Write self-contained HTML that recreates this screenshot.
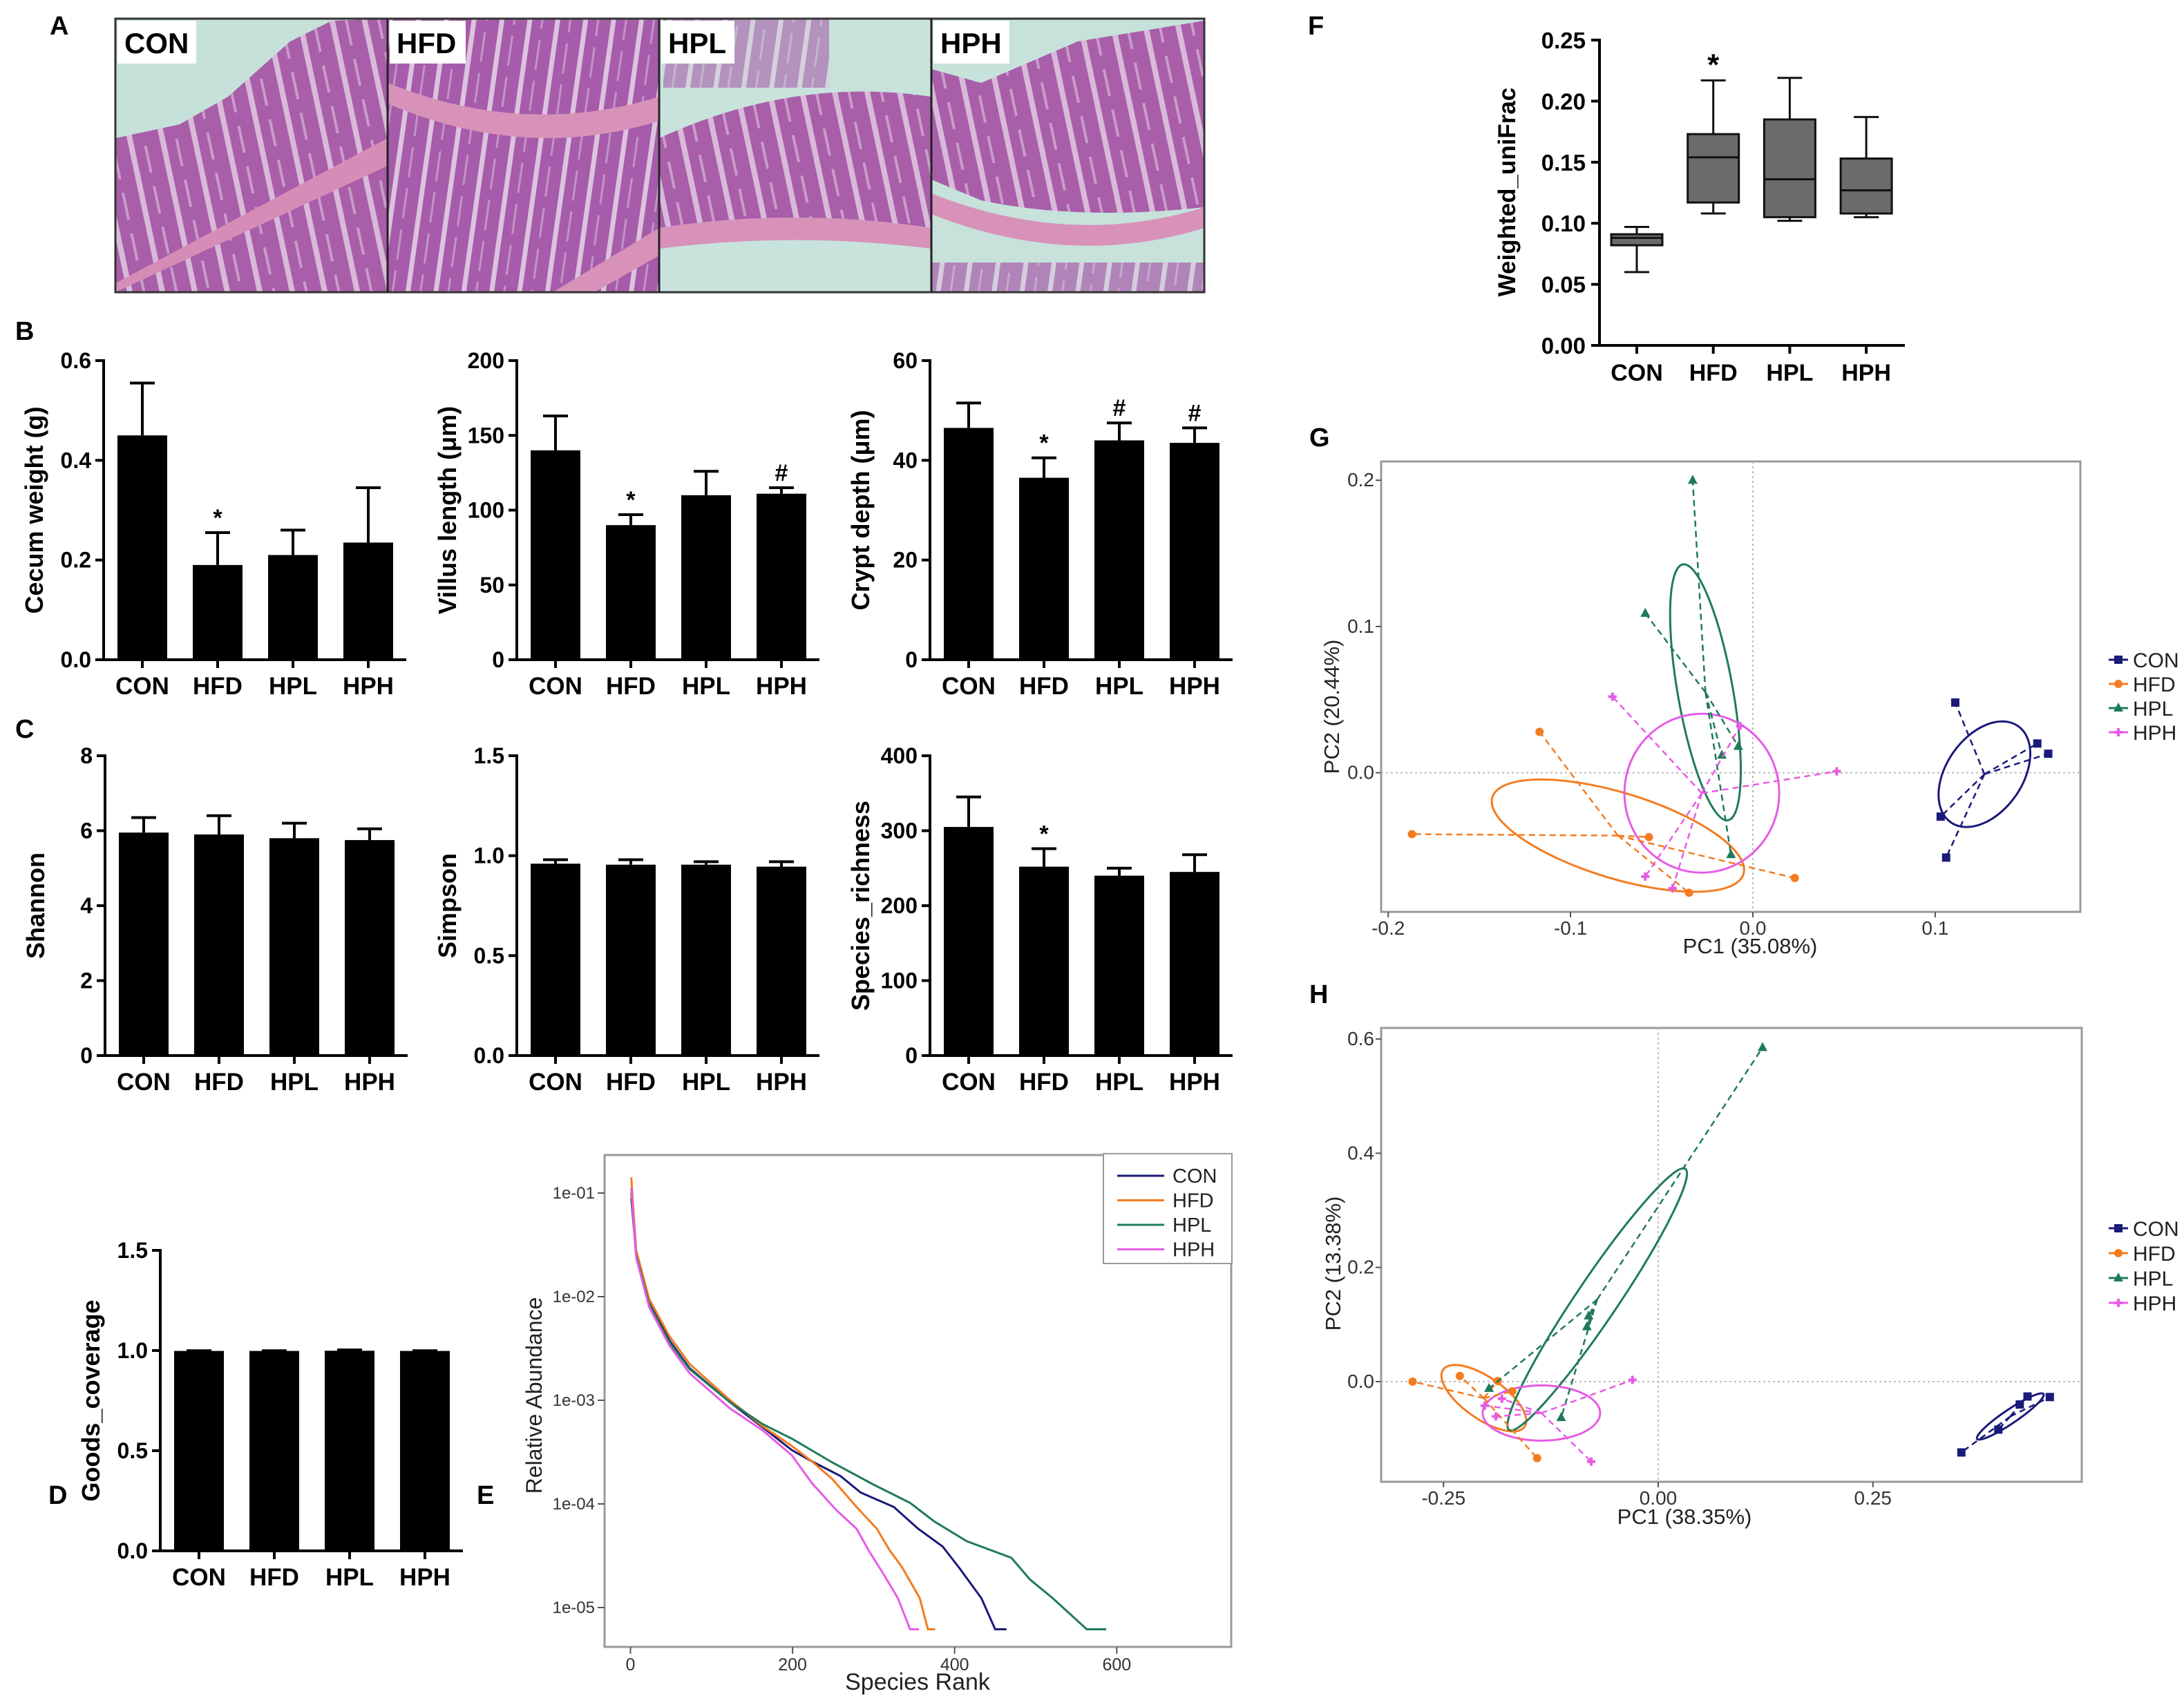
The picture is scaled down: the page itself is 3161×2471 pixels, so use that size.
<!DOCTYPE html>
<html><head><meta charset="utf-8"><style>
html,body{margin:0;padding:0;background:#fff;}
svg{display:block;font-family:"Liberation Sans",sans-serif;}
</style></head><body>
<svg id="fig" xmlns="http://www.w3.org/2000/svg" width="3161" height="2471" viewBox="0 0 3161 2471">
<defs>
<pattern id="villi" width="46" height="60" patternUnits="userSpaceOnUse" patternTransform="rotate(-12)">
<rect width="46" height="60" fill="#a85ea9"/>
<rect x="0" y="0" width="8" height="60" fill="#d9b9d9"/>
<rect x="22" y="10" width="4" height="40" fill="#c99bc9"/>
</pattern>
<pattern id="villi2" width="40" height="60" patternUnits="userSpaceOnUse" patternTransform="rotate(8)">
<rect width="40" height="60" fill="#a65caa"/>
<rect x="0" y="0" width="7" height="60" fill="#dcc3de"/>
<rect x="20" y="8" width="3" height="44" fill="#c393c6"/>
</pattern>
<clipPath id="clipA1"><rect x="167" y="27" width="394" height="396"/></clipPath>
<clipPath id="clipA2"><rect x="561" y="27" width="393" height="396"/></clipPath>
<clipPath id="clipA3"><rect x="954" y="27" width="394" height="396"/></clipPath>
<clipPath id="clipA4"><rect x="1348" y="27" width="395" height="396"/></clipPath>
</defs>

<!-- Panel A histology -->
<g>
<g clip-path="url(#clipA1)">
<rect x="167" y="27" width="394" height="396" fill="#c5e1da"/>
<polygon points="167,200 260,180 330,140 420,60 480,30 561,27 561,423 167,423" fill="url(#villi)"/>
<polygon points="167,410 561,200 561,240 167,423" fill="#d58db7"/>
</g>
<g clip-path="url(#clipA2)">
<rect x="561" y="27" width="393" height="396" fill="url(#villi2)"/>
<path d="M561,120 Q760,200 954,140 L954,175 Q760,235 561,150 Z" fill="#d892b9"/>
<polygon points="800,423 954,330 954,370 860,423" fill="#d892b9"/>
</g>
<g clip-path="url(#clipA3)">
<rect x="954" y="27" width="394" height="396" fill="#c7e3dc"/>
<path d="M954,200 Q1150,110 1348,140 L1348,330 Q1150,300 954,330 Z" fill="url(#villi)"/>
<path d="M954,330 Q1150,300 1348,330 L1348,360 Q1150,335 954,360 Z" fill="#d892b9"/>
<rect x="960" y="27" width="240" height="100" fill="url(#villi2)" opacity="0.6"/>
</g>
<g clip-path="url(#clipA4)">
<rect x="1348" y="27" width="395" height="396" fill="#c6e2db"/>
<path d="M1348,100 L1420,120 L1560,60 L1743,30 L1743,300 Q1560,320 1420,290 L1348,260 Z" fill="url(#villi)"/>
<path d="M1348,280 Q1550,360 1743,300 L1743,330 Q1550,390 1348,310 Z" fill="#d892b9"/>
<rect x="1348" y="380" width="395" height="43" fill="url(#villi2)" opacity="0.7"/>
</g>
<rect x="167" y="27" width="1576" height="396" fill="none" stroke="#333" stroke-width="3"/>
<line x1="561" y1="27" x2="561" y2="423" stroke="#222" stroke-width="3"/>
<line x1="954" y1="27" x2="954" y2="423" stroke="#222" stroke-width="3"/>
<line x1="1348" y1="27" x2="1348" y2="423" stroke="#222" stroke-width="3"/>
<rect x="170" y="30" width="114" height="62" fill="#fff"/>
<rect x="564" y="30" width="110" height="62" fill="#fff"/>
<rect x="957" y="30" width="106" height="62" fill="#fff"/>
<rect x="1351" y="30" width="110" height="62" fill="#fff"/>
<text x="180" y="77" font-size="42" font-weight="bold">CON</text>
<text x="574" y="77" font-size="42" font-weight="bold">HFD</text>
<text x="967" y="77" font-size="42" font-weight="bold">HPL</text>
<text x="1361" y="77" font-size="42" font-weight="bold">HPH</text>
</g>

<g font-weight="bold" font-size="38">
<text x="72" y="50">A</text>
<text x="22" y="492">B</text>
<text x="22" y="1068">C</text>
<text x="70" y="2177">D</text>
<text x="690" y="2177">E</text>
<text x="1893" y="50">F</text>
<text x="1895" y="646">G</text>
<text x="1895" y="1452">H</text>
</g>
<g id="charts"></g>
</svg>
<script>
const groups = ['CON','HFD','HPL','HPH'];
const cecumMean = [0.45, 0.19, 0.21, 0.235];
const cecumErr = [0.105, 0.065, 0.05, 0.11];
const cecumMarks = ['', '*', '', ''];
const cecumTicks = [0, 0.2, 0.4, 0.6];
const villusMean = [140, 90, 110, 111];
const villusErr = [23, 7, 16, 4];
const villusMarks = ['', '*', '', '#'];
const villusTicks = [0, 50, 100, 150, 200];
const cryptMean = [46.5, 36.5, 44, 43.5];
const cryptErr = [5, 4, 3.5, 3];
const cryptMarks = ['', '*', '#', '#'];
const cryptTicks = [0, 20, 40, 60];
const shannonMean = [5.95, 5.9, 5.8, 5.75];
const shannonErr = [0.4, 0.5, 0.4, 0.3];
const shannonTicks = [0, 2, 4, 6, 8];
const simpsonMean = [0.96, 0.955, 0.955, 0.945];
const simpsonErr = [0.02, 0.025, 0.015, 0.025];
const simpsonTicks = [0, 0.5, 1.0, 1.5];
const richMean = [305, 252, 240, 245];
const richErr = [40, 24, 10, 23];
const richMarks = ['', '*', '', ''];
const richTicks = [0, 100, 200, 300, 400];
const goodsMean = [0.998, 0.998, 0.999, 0.998];
const goodsErr = [0.001, 0.001, 0.004, 0.001];
const goodsTicks = [0, 0.5, 1.0, 1.5];

// Panel E rank-abundance: [rank, log10 abundance]
const rankCON = [[1,-1.05],[7,-1.59],[23,-2.05],[48,-2.42],[73,-2.69],[123,-3.02],[163,-3.26],[199,-3.48],[224,-3.59],[259,-3.73],[284,-3.89],[325,-4.03],[355,-4.24],[385,-4.41],[405,-4.61],[433,-4.91],[450,-5.21],[464,-5.21]];
const rankHFD = [[1,-0.85],[7,-1.55],[23,-2.02],[48,-2.38],[73,-2.65],[123,-3.0],[163,-3.25],[199,-3.44],[224,-3.59],[249,-3.76],[279,-4.03],[304,-4.24],[320,-4.45],[335,-4.61],[357,-4.91],[367,-5.21],[376,-5.21]];
const rankHPL = [[1,-1.0],[7,-1.6],[23,-2.07],[48,-2.44],[73,-2.7],[123,-3.02],[163,-3.23],[199,-3.37],[249,-3.6],[299,-3.81],[345,-3.99],[375,-4.17],[415,-4.36],[470,-4.52],[493,-4.73],[521,-4.91],[563,-5.21],[587,-5.21]];
const rankHPH = [[1,-0.95],[7,-1.62],[23,-2.1],[48,-2.47],[73,-2.74],[123,-3.08],[163,-3.29],[199,-3.53],[224,-3.8],[254,-4.06],[279,-4.24],[294,-4.45],[314,-4.7],[330,-4.91],[345,-5.21],[356,-5.21]];
const rankXTicks = [0, 200, 400, 600];
const rankYTicks = [-1, -2, -3, -4, -5];
const rankYLabels = ['1e-01','1e-02','1e-03','1e-04','1e-05'];

// Panel F boxplots: min, q1, median, q3, max
const boxMin = [0.060, 0.108, 0.102, 0.105];
const boxQ1 = [0.082, 0.117, 0.105, 0.108];
const boxMed = [0.088, 0.154, 0.136, 0.127];
const boxQ3 = [0.091, 0.173, 0.185, 0.153];
const boxMax = [0.097, 0.217, 0.219, 0.187];
const boxMarks = ['', '*', '', ''];
const boxTicks = [0, 0.05, 0.10, 0.15, 0.20, 0.25];
const boxTickLabels = ['0.00','0.05','0.10','0.15','0.20','0.25'];

// Panel G PCoA (weighted)
const gCON = [[0.111,0.048],[0.156,0.020],[0.162,0.013],[0.103,-0.030],[0.106,-0.058]];
const gHFD = [[-0.117,0.028],[-0.187,-0.042],[-0.057,-0.044],[-0.035,-0.082],[0.023,-0.072]];
const gHPL = [[-0.033,0.200],[-0.059,0.109],[-0.017,0.012],[-0.008,0.018],[-0.012,-0.056]];
const gHPH = [[-0.077,0.052],[-0.007,0.032],[0.046,0.001],[-0.059,-0.071],[-0.044,-0.079]];
const gCentroids = [[0.127,-0.001],[-0.074,-0.043],[-0.026,0.055],[-0.028,-0.014]];
const gXTicks = [-0.2, -0.1, 0.0, 0.1];
const gYTicks = [0.0, 0.1, 0.2];

// Panel H PCoA (unweighted)
const hCON = [[0.353,-0.124],[0.396,-0.084],[0.421,-0.040],[0.430,-0.026],[0.456,-0.027]];
const hHFD = [[-0.286,0.0],[-0.231,0.010],[-0.187,0.001],[-0.170,-0.017],[-0.141,-0.134]];
const hHPL = [[0.1215,0.585],[-0.081,0.115],[-0.083,0.096],[-0.197,-0.012],[-0.113,-0.063]];
const hHPH = [[-0.030,0.003],[-0.078,-0.140],[-0.182,-0.030],[-0.202,-0.042],[-0.189,-0.061]];
const hCentroids = [[0.41,-0.061],[-0.203,-0.029],[-0.071,0.144],[-0.136,-0.055]];
const hXTicks = [-0.25, 0.0, 0.25];
const hYTicks = [0.0, 0.2, 0.4, 0.6];

const colors = ['#1a1a7a','#f47c20','#1f7a5c','#e55ce5'];
const NS = 'http://www.w3.org/2000/svg';
const root = document.getElementById('charts');
function mk(tag, attrs, parent) {
  const el = document.createElementNS(NS, tag);
  for (const k in attrs) el.setAttribute(k, attrs[k]);
  (parent || root).appendChild(el);
  return el;
}

function barChart(cfg) {
  const g = mk('g', {});
  
  
  const tmax = cfg.ticks[cfg.ticks.length - 1];
  const y = v => cfg.bottom - (v / tmax) * (cfg.bottom - cfg.top);
  const x = i => cfg.axisX + 56 + i * 109;
  const ax = mk('line', {x1: cfg.axisX, y1: cfg.top - 2, x2: cfg.axisX, y2: cfg.bottom, stroke: '#000', 'stroke-width': 4}, g);
  
  
  const bx = mk('line', {x1: cfg.axisX - 12, y1: cfg.bottom, x2: cfg.axisX + 438, y2: cfg.bottom, stroke: '#000', 'stroke-width': 4}, g);
  
  
  cfg.ticks.forEach((t, k) => {
    mk('line', {x1: cfg.axisX - 12, y1: y(t), x2: cfg.axisX, y2: y(t), stroke: '#000', 'stroke-width': 4}, g);
    const tl = mk('text', {x: cfg.axisX - 18, y: y(t) + 11, 'font-size': 32, 'font-weight': 'bold', 'text-anchor': 'end'}, g);
    
    
    tl.textContent = cfg.tickLabels ? cfg.tickLabels[k] : String(t);
  });
  cfg.values.forEach((v, i) => {
    const cx = x(i);
    const bar = mk('rect', {x: cx - 36, y: y(v), width: 72, height: cfg.bottom - y(v), fill: '#000'}, g);
    
    
    const top = y(v + cfg.err[i]);
    const eb = mk('path', {d: `M${cx},${y(v)}L${cx},${top}M${cx-18},${top}L${cx+18},${top}`, stroke: '#000', 'stroke-width': 4, fill: 'none'}, g);
    
    
    mk('line', {x1: cx, y1: cfg.bottom, x2: cx, y2: cfg.bottom + 12, stroke: '#000', 'stroke-width': 4}, g);
    const xl = mk('text', {x: cx, y: cfg.bottom + 50, 'font-size': 35, 'font-weight': 'bold', 'text-anchor': 'middle'}, g);
    
    
    xl.textContent = groups[i];
    if (cfg.marks && cfg.marks[i]) {
      const m = mk('text', {x: cx, y: top - 10, 'font-size': 34, 'font-weight': 'bold', 'text-anchor': 'middle'}, g);
      
      
      m.textContent = cfg.marks[i];
    }
  });
  const tx = cfg.axisX - 88, ty = (cfg.top + cfg.bottom) / 2;
  const tt = mk('text', {x: tx, y: ty, 'font-size': 36, 'font-weight': 'bold', 'text-anchor': 'middle', transform: `rotate(-90 ${tx} ${ty})`}, g);
  
  
  tt.textContent = cfg.title;
}

barChart({name: 'chart-cecum-weight', axisX: 150, top: 522, bottom: 955, ticks: cecumTicks, tickLabels: ['0.0','0.2','0.4','0.6'], values: cecumMean, err: cecumErr, marks: cecumMarks, title: 'Cecum weight (g)'});
barChart({name: 'chart-villus-length', axisX: 748, top: 522, bottom: 955, ticks: villusTicks, values: villusMean, err: villusErr, marks: villusMarks, title: 'Villus length (\u03bcm)'});
barChart({name: 'chart-crypt-depth', axisX: 1346, top: 522, bottom: 955, ticks: cryptTicks, values: cryptMean, err: cryptErr, marks: cryptMarks, title: 'Crypt depth (\u03bcm)'});
barChart({name: 'chart-shannon', axisX: 152, top: 1094, bottom: 1528, ticks: shannonTicks, values: shannonMean, err: shannonErr, title: 'Shannon'});
barChart({name: 'chart-simpson', axisX: 748, top: 1094, bottom: 1528, ticks: simpsonTicks, tickLabels: ['0.0','0.5','1.0','1.5'], values: simpsonMean, err: simpsonErr, title: 'Simpson'});
barChart({name: 'chart-species-richness', axisX: 1346, top: 1094, bottom: 1528, ticks: richTicks, values: richMean, err: richErr, marks: richMarks, title: 'Species_richness'});
barChart({name: 'chart-goods-coverage', axisX: 232, top: 1810, bottom: 2245, ticks: goodsTicks, tickLabels: ['0.0','0.5','1.0','1.5'], values: goodsMean, err: goodsErr, title: 'Goods_coverage'});

// Panel E
(function () {
  const g = mk('g', {});
  
  
  const L = 875, R = 1782, T = 1672, B = 2384;
  const x = r => 912.5 + r * 1.173;
  const y = l => 1727 + (-1 - l) * 150;
  const fr = mk('rect', {x: L, y: T, width: R - L, height: B - T, fill: 'none', stroke: '#999', 'stroke-width': 3}, g);
  
  
  rankXTicks.forEach(t => {
    mk('line', {x1: x(t), y1: B, x2: x(t), y2: B + 10, stroke: '#555', 'stroke-width': 2}, g);
    const tl = mk('text', {x: x(t), y: B + 34, 'font-size': 25, fill: '#333', 'text-anchor': 'middle'}, g);
    
    
    tl.textContent = String(t);
  });
  rankYTicks.forEach((t, k) => {
    mk('line', {x1: L - 10, y1: y(t), x2: L, y2: y(t), stroke: '#555', 'stroke-width': 2}, g);
    const tl = mk('text', {x: L - 14, y: y(t) + 8, 'font-size': 24, fill: '#333', 'text-anchor': 'end'}, g);
    
    
    tl.textContent = rankYLabels[k];
  });
  [rankCON, rankHFD, rankHPL, rankHPH].forEach((s, i) => {
    const pl = mk('polyline', {points: s.map(p => x(p[0]) + ',' + y(p[1])).join(' '), fill: 'none', stroke: colors[i], 'stroke-width': 3}, g);
    
    
  });
  const lg = mk('g', {}, g);
  
  
  mk('rect', {x: 1597, y: 1670, width: 186, height: 159, fill: '#fff', stroke: '#999', 'stroke-width': 2}, lg);
  groups.forEach((n, i) => {
    const ly = 1702 + i * 35.5;
    mk('line', {x1: 1617, y1: ly, x2: 1685, y2: ly, stroke: colors[i], 'stroke-width': 3}, lg);
    const t = mk('text', {x: 1697, y: ly + 10, 'font-size': 29, fill: '#222'}, lg);
    
    
    t.textContent = n;
  });
  const xt = mk('text', {x: 1328, y: 2446, 'font-size': 34, fill: '#222', 'text-anchor': 'middle'}, g);
  
  
  xt.textContent = 'Species Rank';
  const yt = mk('text', {x: 784, y: 2020, 'font-size': 32, fill: '#222', 'text-anchor': 'middle', transform: 'rotate(-90 784 2020)'}, g);
  
  
  yt.textContent = 'Relative Abundance';
})();

// Panel F
(function () {
  const g = mk('g', {});
  
  
  const AX = 2315, T = 58, Bt = 500;
  const y = v => Bt - (v / 0.25) * (Bt - T);
  const x = i => 2369 + i * 110.7;
  const a1 = mk('line', {x1: AX, y1: T - 2, x2: AX, y2: Bt, stroke: '#000', 'stroke-width': 4}, g);
  
  
  const a2 = mk('line', {x1: AX - 12, y1: Bt, x2: 2757, y2: Bt, stroke: '#000', 'stroke-width': 4}, g);
  
  
  boxTicks.forEach((t, k) => {
    mk('line', {x1: AX - 12, y1: y(t), x2: AX, y2: y(t), stroke: '#000', 'stroke-width': 4}, g);
    const tl = mk('text', {x: AX - 20, y: y(t) + 12, 'font-size': 33, 'font-weight': 'bold', 'text-anchor': 'end'}, g);
    
    
    tl.textContent = boxTickLabels[k];
  });
  groups.forEach((n, i) => {
    const cx = x(i);
    const wh = mk('path', {d: `M${cx},${y(boxMin[i])}L${cx},${y(boxQ1[i])}M${cx},${y(boxQ3[i])}L${cx},${y(boxMax[i])}M${cx-18},${y(boxMin[i])}L${cx+18},${y(boxMin[i])}M${cx-18},${y(boxMax[i])}L${cx+18},${y(boxMax[i])}`, stroke: '#111', 'stroke-width': 3, fill: 'none'}, g);
    
    
    const bx = mk('rect', {x: cx - 37, y: y(boxQ3[i]), width: 74, height: y(boxQ1[i]) - y(boxQ3[i]), fill: '#6b6b6b', stroke: '#111', 'stroke-width': 3}, g);
    
    
    mk('line', {x1: cx - 37, y1: y(boxMed[i]), x2: cx + 37, y2: y(boxMed[i]), stroke: '#111', 'stroke-width': 3}, g);
    mk('line', {x1: cx, y1: Bt, x2: cx, y2: Bt + 12, stroke: '#000', 'stroke-width': 4}, g);
    const xl = mk('text', {x: cx, y: Bt + 51, 'font-size': 34, 'font-weight': 'bold', 'text-anchor': 'middle'}, g);
    
    
    xl.textContent = n;
    if (boxMarks[i]) {
      const m = mk('text', {x: cx, y: y(boxMax[i]) - 8, 'font-size': 44, 'font-weight': 'bold', 'text-anchor': 'middle'}, g);
      
      
      m.textContent = boxMarks[i];
    }
  });
  const tt = mk('text', {x: 2193, y: 278, 'font-size': 35, 'font-weight': 'bold', 'text-anchor': 'middle', transform: 'rotate(-90 2193 278)'}, g);
  
  
  tt.textContent = 'Weighted_uniFrac';
})();

function marker(g, i, px, py) {
  let el;
  if (i === 0) el = mk('rect', {x: px - 6, y: py - 6, width: 12, height: 12, fill: colors[i]}, g);
  else if (i === 1) el = mk('circle', {cx: px, cy: py, r: 6, fill: colors[i]}, g);
  else if (i === 2) el = mk('polygon', {points: `${px},${py-8} ${px+7},${py+5} ${px-7},${py+5}`, fill: colors[i]}, g);
  else el = mk('path', {d: `M${px-6},${py}L${px+6},${py}M${px},${py-6}L${px},${py+6}`, stroke: colors[i], 'stroke-width': 4}, g);
  return el;
}

function pcoa(cfg) {
  const g = mk('g', {});
  
  
  const x = v => cfg.x0 + v * cfg.xs;
  const y = v => cfg.y0 - v * cfg.ys;
  const fr = mk('rect', {x: cfg.L, y: cfg.T, width: cfg.R - cfg.L, height: cfg.B - cfg.T, fill: 'none', stroke: '#999', 'stroke-width': 3}, g);
  
  
  mk('line', {x1: x(0), y1: cfg.T, x2: x(0), y2: cfg.B, stroke: '#bbb', 'stroke-width': 2, 'stroke-dasharray': '3,4'}, g);
  mk('line', {x1: cfg.L, y1: y(0), x2: cfg.R, y2: y(0), stroke: '#bbb', 'stroke-width': 2, 'stroke-dasharray': '3,4'}, g);
  cfg.xt.forEach(t => {
    mk('line', {x1: x(t), y1: cfg.B, x2: x(t), y2: cfg.B + 8, stroke: '#555', 'stroke-width': 2}, g);
    const tl = mk('text', {x: x(t), y: cfg.B + 33, 'font-size': 28, fill: '#333', 'text-anchor': 'middle'}, g);
    
    
    tl.textContent = t.toFixed(cfg.xd);
  });
  cfg.yt.forEach(t => {
    mk('line', {x1: cfg.L - 8, y1: y(t), x2: cfg.L, y2: y(t), stroke: '#555', 'stroke-width': 2}, g);
    const tl = mk('text', {x: cfg.L - 10, y: y(t) + 9, 'font-size': 28, fill: '#333', 'text-anchor': 'end'}, g);
    
    
    tl.textContent = t.toFixed(1);
  });
  cfg.ell.forEach((e, i) => {
    const c = cfg.cent[i];
    const el = mk('ellipse', {cx: 0, cy: 0, rx: e[0], ry: e[1], fill: 'none', stroke: colors[i], 'stroke-width': 3, transform: `translate(${x(c[0])},${y(c[1])}) rotate(${e[2]})`}, g);
    
    
  });
  cfg.series.forEach((s, i) => {
    const c = cfg.cent[i];
    s.forEach(p => {
      const ln = mk('line', {x1: x(c[0]), y1: y(c[1]), x2: x(p[0]), y2: y(p[1]), stroke: colors[i], 'stroke-width': 2.5, 'stroke-dasharray': '9,6'}, g);
      
      
      const m = marker(g, i, x(p[0]), y(p[1]));
      
      
    });
  });
  const lg = mk('g', {}, g);
  
  
  groups.forEach((n, i) => {
    const ly = cfg.legY + i * cfg.legDy;
    mk('line', {x1: 3052, y1: ly, x2: 3080, y2: ly, stroke: colors[i], 'stroke-width': 3}, lg);
    const m = marker(lg, i, 3066, ly);
    
    
    const t = mk('text', {x: 3087, y: ly + 11, 'font-size': 30, fill: '#222'}, lg);
    
    
    t.textContent = n;
  });
  const xt = mk('text', {x: cfg.xtx, y: cfg.xty, 'font-size': 31, fill: '#222', 'text-anchor': 'middle'}, g);
  
  
  xt.textContent = cfg.xtitle;
  const yt = mk('text', {x: cfg.ytx, y: cfg.yty, 'font-size': 31, fill: '#222', 'text-anchor': 'middle', transform: `rotate(-90 ${cfg.ytx} ${cfg.yty})`}, g);
  
  
  yt.textContent = cfg.ytitle;
}

pcoa({name: 'chart-pcoa-weighted', L: 1999, R: 3011, T: 668, B: 1320, x0: 2537, xs: 2639, y0: 1118.6, ys: 2117,
  xt: gXTicks, yt: gYTicks, xd: 1, series: [gCON, gHFD, gHPL, gHPH], cent: gCentroids,
  ell: [[85, 55, -55], [190, 62, 17], [188, 40, 80], [112, 115, 0]],
  legY: 955, legDy: 35, xtitle: 'PC1 (35.08%)', xtx: 2533, xty: 1380, ytitle: 'PC2 (20.44%)', ytx: 1938, yty: 1023});
pcoa({name: 'chart-pcoa-unweighted', L: 1999, R: 3013, T: 1488, B: 2145, x0: 2400, xs: 1243, y0: 2000, ys: 826.6,
  xt: hXTicks, yt: hYTicks, xd: 2, series: [hCON, hHFD, hHPL, hHPH], cent: hCentroids,
  ell: [[58, 10, -34], [72, 30, 35], [228, 30, -56], [85, 40, 0]],
  legY: 1778, legDy: 36, xtitle: 'PC1 (38.35%)', xtx: 2438, xty: 2206, ytitle: 'PC2 (13.38%)', ytx: 1940, yty: 1829});
</script>
</body></html>
